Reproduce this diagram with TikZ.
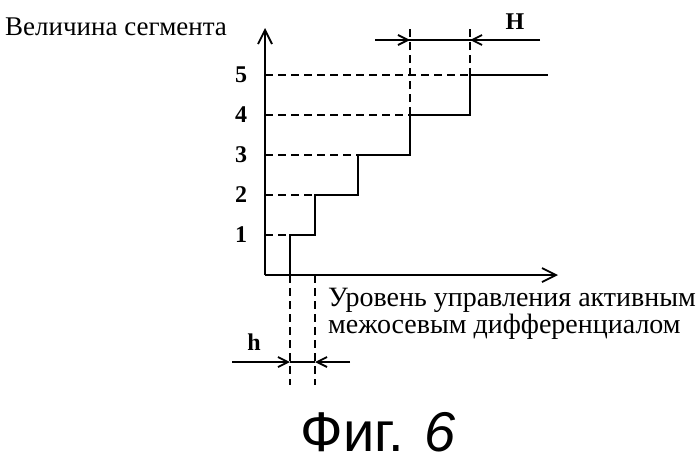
\documentclass[tikz,border=0pt]{standalone}
\usepackage{fontspec}
\setmainfont{Liberation Serif}
\newfontfamily\figfont{Liberation Sans}
\usetikzlibrary{arrows.meta}
\begin{document}
\begin{tikzpicture}[x=1pt,y=-1pt,
  ax/.style={line width=1.8pt,-{Straight Barb[length=14pt,width=14pt]}},
  stp/.style={line width=2.8pt},
  dsh/.style={dashed,dash pattern=on 8pt off 5pt,line width=1.5pt},
  dim/.style={line width=1.8pt,-{Straight Barb[length=10pt,width=10pt]}},
  lbl/.style={font=\fontsize{27}{32}\selectfont},
  lblx/.style={font=\fontsize{28}{28}\selectfont},
  num/.style={font=\bfseries\fontsize{24}{26}\selectfont}]
\useasboundingbox (0,0) rectangle (700,464);
\coordinate (O) at (265,275);
\coordinate (Ytop) at (265,28);
\coordinate (Xend) at (558,275);
\draw[ax] (O) -- (Ytop);
\draw[ax] (O) -- (Xend);
\draw[stp] (265,275) -- (290,275) -- (290,235) -- (315,235) -- (315,195) -- (358,195) -- (358,155) -- (410,155) -- (410,115) -- (470,115) -- (470,75) -- (548,75);
\foreach \y/\x in {235/290,195/315,155/358,115/410,75/470}
  \draw[dsh] (265,\y) -- (\x,\y);
\foreach \x in {290,315} \draw[dsh] (\x,275) -- (\x,385);
\foreach \x in {410,470} \draw[dsh] (\x,115) -- (\x,28);
\foreach \y/\n in {235/1,195/2,155/3,115/4,75/5}
  \node[num] (n\n) at (241,\y) {\n};
\coordinate (HL) at (375,40); \coordinate (HLa) at (410,40);
\coordinate (HR) at (540,40); \coordinate (HRa) at (470,40);
\draw[line width=1.8pt] (HL) -- (HR);
\draw[dim] (HL) -- (HLa);
\draw[dim] (HR) -- (HRa);
\node[num] (H) at (515,22) {H};
\coordinate (hL) at (232,362); \coordinate (hLa) at (290,362);
\coordinate (hR) at (350,362); \coordinate (hRa) at (315,362);
\draw[dim] (hL) -- (hLa);
\draw[dim] (hR) -- (hRa);
\draw[line width=1.8pt] (hLa) -- (hRa);
\node[num] (h) at (254,342) {h};
\node[lbl,anchor=west,inner sep=0pt] (yl) at (5,27) {Величина сегмента};
\node[lblx,anchor=west,align=left,inner sep=0pt] (xl) at (328,314) {Уровень управления активным\\[-1pt]межосевым дифференциалом};
\node[anchor=center,font=\figfont\fontsize{56}{60}\selectfont] (fig) at (378,432) {Фиг. \textit{6}};
\end{tikzpicture}
\end{document}
